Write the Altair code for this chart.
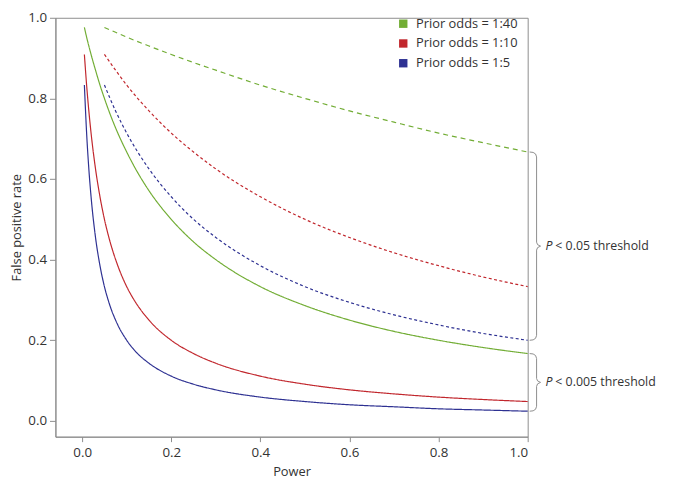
import altair as alt
import pandas as pd

# ---- data ----
series_names = ["Prior odds = 1:40", "Prior odds = 1:10", "Prior odds = 1:5"]
series_colors = ["#72ad35", "#c1272d", "#2e3192"]

# P < 0.005 threshold (solid lines)
power_solid = [0.005, 0.01, 0.015, 0.02, 0.03, 0.04, 0.05, 0.06, 0.08, 0.1, 0.12,
               0.15, 0.2, 0.25, 0.3, 0.4, 0.5, 0.6, 0.7, 0.8, 0.9, 1.0]
fpr_solid_140 = [0.976, 0.952, 0.930, 0.909, 0.870, 0.833, 0.800, 0.769, 0.714, 0.667, 0.625,
                 0.571, 0.500, 0.444, 0.400, 0.333, 0.286, 0.250, 0.222, 0.200, 0.182, 0.167]
fpr_solid_110 = [0.909, 0.833, 0.769, 0.714, 0.625, 0.556, 0.500, 0.455, 0.385, 0.333, 0.294,
                 0.250, 0.200, 0.167, 0.143, 0.111, 0.091, 0.077, 0.067, 0.059, 0.053, 0.048]
fpr_solid_15 = [0.833, 0.714, 0.625, 0.556, 0.455, 0.385, 0.333, 0.294, 0.238, 0.200, 0.172,
                0.143, 0.111, 0.091, 0.077, 0.059, 0.048, 0.040, 0.035, 0.030, 0.027, 0.024]

# P < 0.05 threshold (dashed lines)
power_dash = [0.05, 0.075, 0.1, 0.15, 0.2, 0.25, 0.3, 0.4, 0.5, 0.6, 0.7, 0.8, 0.9, 1.0]
fpr_dash_140 = [0.976, 0.964, 0.952, 0.930, 0.909, 0.889, 0.870, 0.833, 0.800, 0.769, 0.741,
                0.714, 0.690, 0.667]
fpr_dash_110 = [0.909, 0.870, 0.833, 0.769, 0.714, 0.667, 0.625, 0.556, 0.500, 0.455, 0.417,
                0.385, 0.357, 0.333]
fpr_dash_15 = [0.833, 0.769, 0.714, 0.625, 0.556, 0.500, 0.455, 0.385, 0.333, 0.294, 0.263,
               0.238, 0.217, 0.200]

x_ticks = [0.0, 0.2, 0.4, 0.6, 0.8, 1.0]
y_ticks = [0.0, 0.2, 0.4, 0.6, 0.8, 1.0]

FONT = "Open Sans"
GREY = "#8c8c8c"
TEXT = "#333333"

# ---- build table ----
rows = []
for name, vals in zip(series_names, [fpr_solid_140, fpr_solid_110, fpr_solid_15]):
    for p, v in zip(power_solid, vals):
        rows.append({"power": p, "fpr": v, "series": name, "line": name + " solid"})
for name, vals in zip(series_names, [fpr_dash_140, fpr_dash_110, fpr_dash_15]):
    for p, v in zip(power_dash, vals):
        rows.append({"power": p, "fpr": v, "series": name, "line": name + " dashed"})
df = pd.DataFrame(rows)

line_keys = [n + " solid" for n in series_names] + [n + " dashed" for n in series_names]
dash_range = [[1, 0], [1, 0], [1, 0], [5, 4], [3, 2.5], [3, 2.5]]

W, H = 478, 424
x_scale = alt.Scale(domain=[-0.06, 1.0], nice=False, zero=False)
y_scale = alt.Scale(domain=[-0.0392, 1.0], nice=False, zero=False)
color_scale = alt.Scale(domain=series_names, range=series_colors)

lines = alt.Chart(df).mark_line(strokeWidth=1.2, interpolate="monotone").encode(
    x=alt.X("power:Q", scale=x_scale,
            axis=alt.Axis(values=x_ticks, format=".1f", title="Power", titlePadding=7,
                          tickSize=5, labelPadding=4)),
    y=alt.Y("fpr:Q", scale=y_scale,
            axis=alt.Axis(values=y_ticks, format=".1f", title="False positive rate",
                          titlePadding=4, tickSize=6, labelPadding=3)),
    color=alt.Color("series:N", scale=color_scale, legend=None),
    strokeDash=alt.StrokeDash("line:N", scale=alt.Scale(domain=line_keys, range=dash_range),
                              legend=None),
    detail="line:N",
)

# ---- braces (ranges taken from the curve ends at power = 1) ----
PXX = W / 1.06      # px per x unit
PXY = H / 1.0392    # px per y unit
brace_ranges = [
    ("P < 0.05", fpr_dash_140[-1], fpr_dash_15[-1]),
    ("P < 0.005", fpr_solid_140[-1], fpr_solid_15[-1]),
]
brace_rows = []
label_rows = []
for name, top, bot in brace_ranges:
    h = (top - bot) * PXY
    mid = h / 2
    pts = [(2, 0), (5.5, 0.4), (8, 2), (9, 5), (9, mid - 4), (10, mid - 1.5), (13, mid),
           (10, mid + 1.5), (9, mid + 4), (9, h - 5), (8, h - 2), (5.5, h - 0.4), (2, h)]
    for i, (dx, dy) in enumerate(pts):
        brace_rows.append({"bx": 1 + dx / PXX, "by": top - dy / PXY, "brace": name, "o": i})
    label_rows.append({"tx": 1 + 18 / PXX, "ty": (top + bot) / 2, "t": "P"})
    label_rows.append({"tx": 1 + 28 / PXX, "ty": (top + bot) / 2,
                       "t": name.replace("P ", "") + " threshold"})
bdf = pd.DataFrame(brace_rows)
ldf = pd.DataFrame(label_rows)

braces = alt.Chart(bdf).mark_line(color=GREY, strokeWidth=1, clip=False).encode(
    x=alt.X("bx:Q", scale=x_scale),
    y=alt.Y("by:Q", scale=y_scale),
    detail="brace:N",
    order="o:Q",
)

ital = alt.Chart(ldf[ldf["t"] == "P"]).mark_text(
    font=FONT, fontSize=12.5, fontStyle="italic", align="left", baseline="middle",
    color=TEXT, clip=False).encode(
    x=alt.X("tx:Q", scale=x_scale), y=alt.Y("ty:Q", scale=y_scale), text="t:N")
rest = alt.Chart(ldf[ldf["t"] != "P"]).mark_text(
    font=FONT, fontSize=12.5, align="left", baseline="middle", color=TEXT, clip=False).encode(
    x=alt.X("tx:Q", scale=x_scale), y=alt.Y("ty:Q", scale=y_scale), text="t:N")

# ---- custom legend (top right inside plot) ----
y0_px = 423  # page y of value 0
leg_df = pd.DataFrame({
    "series": series_names,
    "lx": [(408 - 83) / PXX] * 3,
    "tx": [(421 - 83) / PXX] * 3,
    "ly": [(y0_px - 21) / PXY, (y0_px - 41) / PXY, (y0_px - 61) / PXY],
})
leg_sq = alt.Chart(leg_df).mark_square(size=72, opacity=1, filled=True).encode(
    x=alt.X("lx:Q", scale=x_scale), y=alt.Y("ly:Q", scale=y_scale),
    color=alt.Color("series:N", scale=color_scale, legend=None))
leg_tx = alt.Chart(leg_df).mark_text(
    font=FONT, fontSize=13, align="left", baseline="middle", color=TEXT).encode(
    x=alt.X("tx:Q", scale=x_scale), y=alt.Y("ly:Q", scale=y_scale), text="series:N")

chart = alt.layer(lines, braces, ital, rest, leg_sq, leg_tx).properties(
    width=W, height=H,
    autosize=alt.AutoSizeParams(type="none"),
    padding={"left": 48, "top": 7, "right": 141, "bottom": 46},
).configure_view(stroke=GREY, strokeWidth=1).configure_axis(
    grid=False, domainColor=GREY, tickColor=GREY, labelFont=FONT,
    labelFontSize=13.5, labelColor=TEXT, titleFont=FONT, titleFontSize=13,
    titleFontWeight="normal", titleColor=TEXT,
)

chart.save("out.html", embed_options={"renderer": "svg", "actions": False})
